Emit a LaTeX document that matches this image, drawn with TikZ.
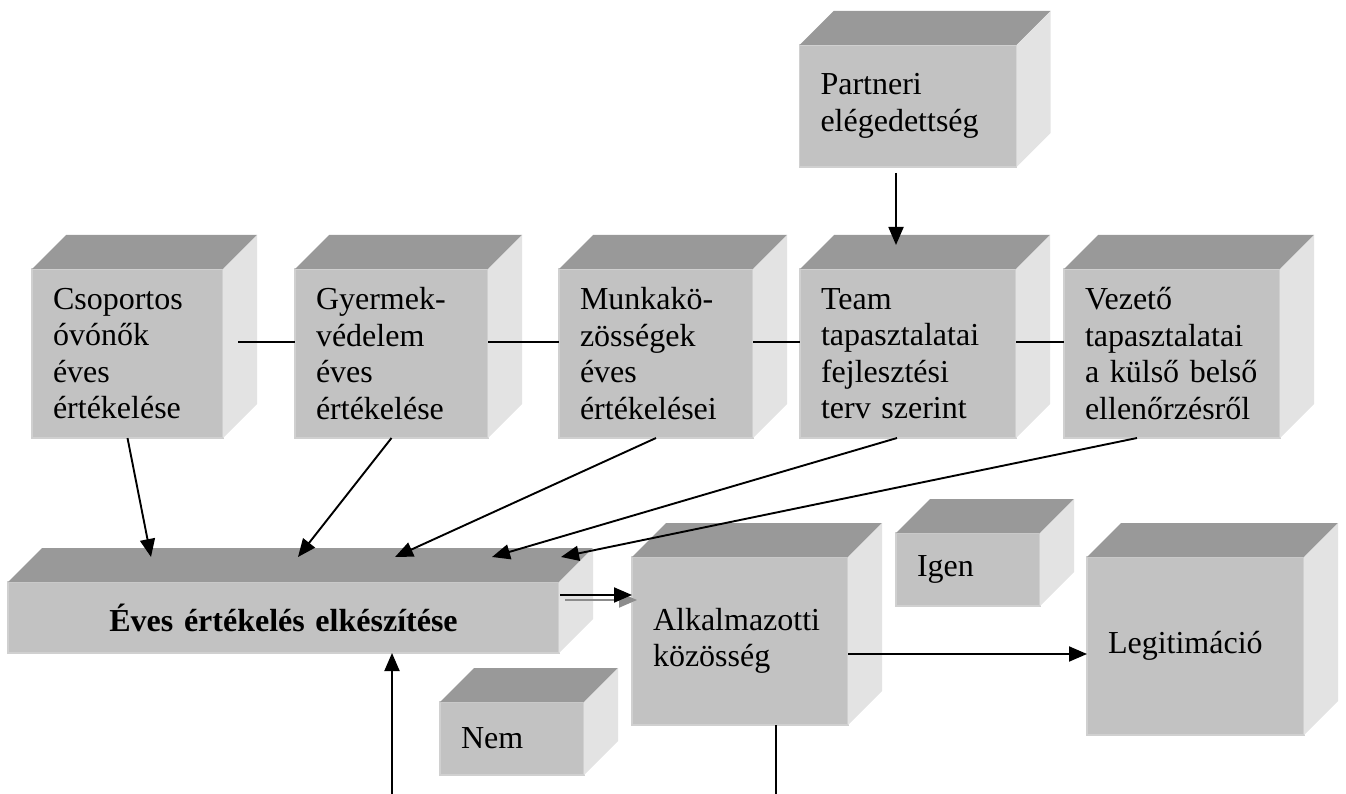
\documentclass[tikz,border=0pt]{standalone}
\usepackage{fontspec}
\setmainfont{Liberation Serif}
\usetikzlibrary{positioning, calc, arrows.meta}

\definecolor{frontgray}{HTML}{C2C2C2}
\definecolor{topgray}{HTML}{999999}
\definecolor{sidegray}{HTML}{E3E3E3}
\definecolor{edgegray}{HTML}{D0D0D0}
\definecolor{shadowgray}{HTML}{8C8C8C}

\begin{document}
\begin{tikzpicture}[
    x=1pt, y=-1pt,
    cube/.style={fill=frontgray, draw=edgegray, line width=1.2pt, inner xsep=21pt, inner ysep=0pt,
                 outer sep=0pt, align=left, font=\fontsize{32}{36.5}\selectfont},
    >={Triangle[length=18pt, width=15pt]},
    line width=1.9pt
]
\useasboundingbox (0,0) rectangle (1346,794);

\node (csop)    [cube, text width=149pt, minimum height=169pt] at (127.5,353.5) {Csoportos\\óvónők\\éves\\értékelése};
\node (gyer)    [cube, text width=151pt, minimum height=169pt, right=72pt of csop] {Gyermek-\\védelem\\éves\\értékelése};
\node (munka)   [cube, text width=152pt, minimum height=169pt, right=71pt of gyer] {Munkakö-\\zösségek\\éves\\értékelései};
\node (team)    [cube, text width=174pt, minimum height=169pt, right=47pt of munka] {Team\\tapasztalatai\\fejlesztési\\terv szerint};
\node (vez)     [cube, text width=174pt, minimum height=169pt, right=48pt of team] {Vezető\\tapasztalatai\\a külső belső\\ellenőrzésről};
\node (partner) [cube, text width=175pt, minimum height=122pt, above=102pt of team] {Partneri\\elégedettség};

\node (eves)    [cube, text width=509pt, minimum height=71pt, align=center,
                 font=\fontsize{32}{36.5}\selectfont\bfseries] at (283.5,617.5) {Éves értékelés elkészítése};
\node (alk)     [cube, text width=174pt, minimum height=168pt] at (740,641) {Alkalmazotti\\közösség};
\node (igen)    [cube, text width=102pt, minimum height=73pt] at (968,569.5) {Igen};
\node (legit)   [cube, text width=175pt, minimum height=178pt] at (1195.5,646) {Legitimáció};
\node (nem)     [cube, text width=102pt, minimum height=73pt] at (512,738.5) {Nem};

% top and side faces
\foreach \n in {partner, csop, gyer, munka, team, vez, eves, alk, igen, legit, nem} {
  \fill[topgray] (\n.north west) -- ++(34,-34) -- ($(\n.north east)+(34,-34)$) -- (\n.north east) -- cycle;
  \fill[sidegray] (\n.north east) -- ++(34,-34) -- ($(\n.south east)+(34,-34)$) -- (\n.south east) -- cycle;
}

\draw[->] ($(partner.south)+(-12,6)$) -- ($(team.north)+(-12,-24)$);

\draw[shorten <=15pt] ($(csop.east)+(0,-11.5)$) -- ($(gyer.west)+(0,-11.5)$);
\draw ($(gyer.east)+(0,-11.5)$) -- ($(munka.west)+(0,-11.5)$);
\draw ($(munka.east)+(0,-11.5)$) -- ($(team.west)+(0,-11.5)$);
\draw ($(team.east)+(0,-11.5)$) -- ($(vez.west)+(0,-11.5)$);

\coordinate (in1) at ($(eves.north west)+(143,-25)$);
\coordinate (in2) at ($(eves.north west)+(290,-25)$);
\coordinate (in3) at ($(eves.north west)+(387,-25)$);
\coordinate (in4) at ($(eves.north west)+(484,-25)$);
\coordinate (in5) at ($(eves.north west)+(553,-25)$);
\draw[->] (csop.south) -- (in1);
\draw[->] (gyer.south) -- (in2);
\draw[->] (munka.south) -- (in3);
\draw[->] ($(team.south)+(-11,0)$) -- (in4);
\draw[->] ($(vez.south)+(-35,0)$) -- (in5);

\coordinate (evout) at ($(eves.north east)+(1,13)$);
\draw[->, shadowgray] ([shift={(5,5)}]evout) -- ([shift={(5,5)}]evout -| alk.west);
\draw[->] (evout) -- (evout -| alk.west);

\coordinate (alkout) at ($(alk.east)+(0,13)$);
\draw[->] (alkout) -- (alkout -| legit.west);

\coordinate (low) at (392,794);
\draw[->] (low) -- (low |- eves.south);
\coordinate (alkdown) at (776,794);
\draw (alkdown |- alk.south) -- (alkdown);

\end{tikzpicture}
\end{document}
